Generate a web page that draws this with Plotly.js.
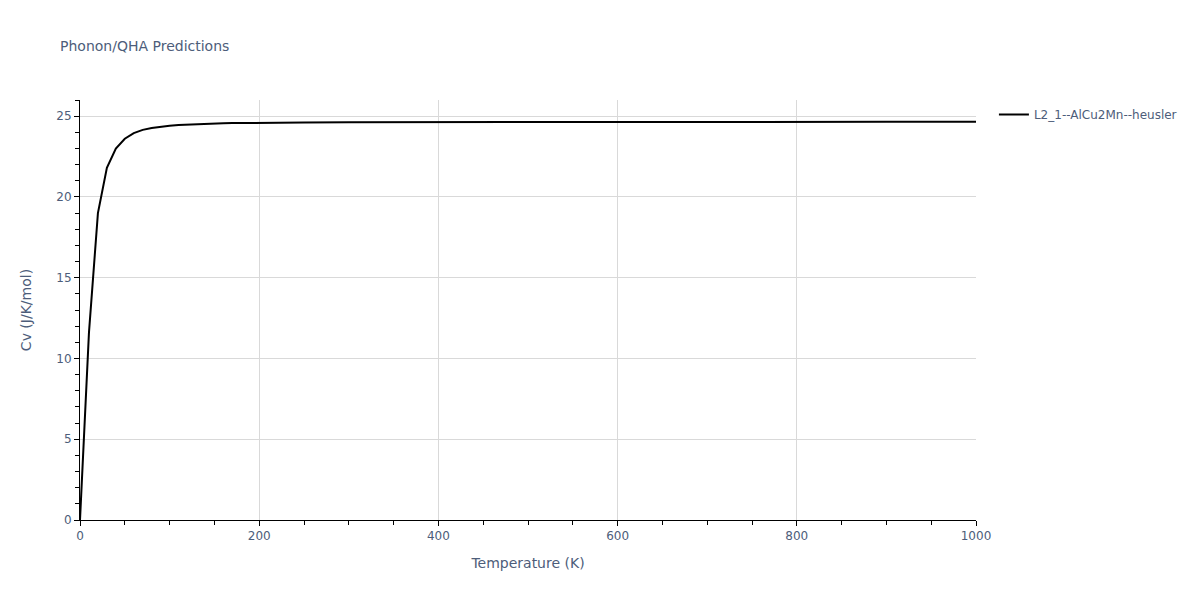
<!DOCTYPE html>
<html>
<head>
<meta charset="utf-8">
<script src="https://cdn.plot.ly/plotly-3.0.1.min.js"></script>
<style>
  body { margin: 0; }
  #Graph1 { width: 1200px; height: 600px; }
</style>
</head>
<body>
<div id="Graph1"></div>
<script>
// Temperature (K) and heat capacity Cv (J/K/mol)
var temperature = [0, 10, 20, 30, 40, 50, 60, 70, 80, 90, 100, 110, 120, 130, 140, 150, 160, 170, 180, 190, 200,
                   250, 300, 350, 400, 450, 500, 550, 600, 650, 700, 750, 800, 850, 900, 950, 1000]
var cv = [0, 11.6, 19.0, 21.8, 23.0, 23.6, 23.95, 24.15, 24.27, 24.35, 24.41, 24.45, 24.48, 24.51, 24.53, 24.55, 24.56, 24.57, 24.58, 24.59, 24.59,
          24.61, 24.62, 24.63, 24.63, 24.63, 24.64, 24.64, 24.64, 24.64, 24.65, 24.65, 24.65, 24.65, 24.65, 24.65, 24.65]
var series_name = "L2_1--AlCu2Mn--heusler"

var font_color = "#4d5d7a"

var traces = [{
    x: temperature,
    y: cv,
    name: series_name,
    type: "scatter",
    mode: "lines",
    line: {color: "black", width: 2}
}]

var graph_layout = {
    width: 1200,
    height: 600,
    paper_bgcolor: "white",
    plot_bgcolor: "white",
    font: {family: "DejaVu Sans, Verdana, sans-serif", size: 12, color: font_color},
    title: {text: "Phonon/QHA Predictions", x: 0.05, xanchor: "left", y: 0.932, font: {size: 14, color: font_color}},
    margin: {l: 80, r: 224, t: 100, b: 80},
    showlegend: true,
    legend: {x: 1.02, y: 1, xanchor: "left", yanchor: "top", font: {size: 12, color: font_color}},
    xaxis: {
        title: {text: "Temperature (K)", standoff: 15, font: {size: 14, color: font_color}},
        range: [0, 1000],
        dtick: 200,
        showline: true,
        linecolor: "black",
        linewidth: 1,
        ticks: "outside",
        ticklen: 5,
        tickcolor: "black",
        showgrid: true,
        gridcolor: "#d9d9d9",
        zeroline: false,
        minor: {ticks: "outside", dtick: 50, ticklen: 4, tickcolor: "black", showgrid: false}
    },
    yaxis: {
        title: {text: "Cv (J/K/mol)", standoff: 21, font: {size: 14, color: font_color}},
        range: [0, 26],
        dtick: 5,
        showline: true,
        linecolor: "black",
        linewidth: 1,
        ticks: "outside",
        ticklen: 5,
        tickcolor: "black",
        showgrid: true,
        gridcolor: "#d9d9d9",
        zeroline: false,
        minor: {ticks: "outside", dtick: 1, ticklen: 4, tickcolor: "black", showgrid: false}
    }
}

Plotly.newPlot("Graph1", traces, graph_layout, {displayModeBar: false})
</script>
</body>
</html>
